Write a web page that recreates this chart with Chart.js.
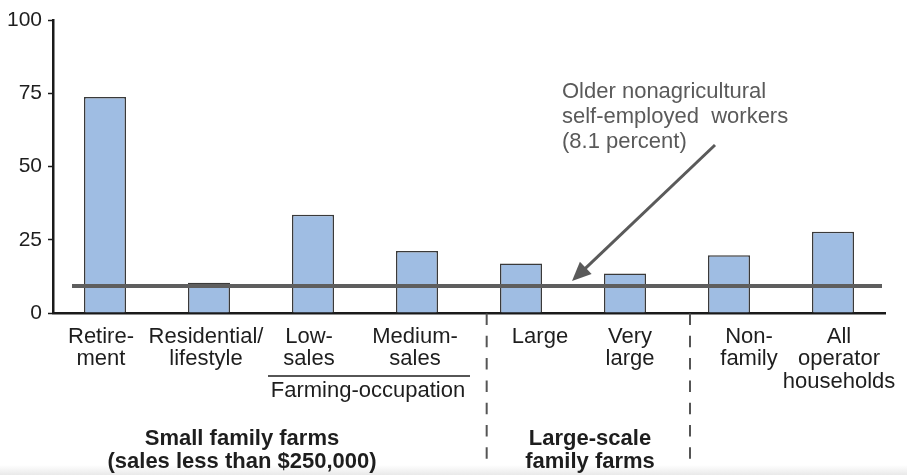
<!DOCTYPE html>
<html>
<head>
<meta charset="utf-8">
<script src="https://cdn.jsdelivr.net/npm/chart.js@4/dist/chart.umd.min.js"></script>
<style>
  html, body { margin: 0; padding: 0; }
  body {
    width: 907px; height: 475px; overflow: hidden;
    background: linear-gradient(to bottom, #fff 0, #fff 465px, #e9e9e9 475px);
  }
  canvas { display: block; }
</style>
</head>
<body>
<canvas id="chart" width="907" height="475"></canvas>
<script>
// values (percent)
const CATEGORIES = [
  ['Retire-', 'ment'],
  ['Residential/', 'lifestyle'],
  ['Low-', 'sales'],
  ['Medium-', 'sales'],
  ['Large'],
  ['Very', 'large'],
  ['Non-', 'family'],
  ['All', 'operator', 'households'],
];
const SHARES = [73.7, 10.3, 33.5, 21.2, 16.9, 13.5, 19.7, 27.7];
const Y_TICKS = [0, 25, 50, 75, 100];
const REFERENCE_LEVEL = 9.2;
const NOTE_LINES = ['Older nonagricultural', 'self-employed  workers', '(8.1 percent)'];
const SUBGROUP_LABEL = 'Farming-occupation';
const SMALL_FARMS_LABEL = ['Small family farms', '(sales less than $250,000)'];
const LARGE_FARMS_LABEL = ['Large-scale', 'family farms'];

// styling
const FONT = '"Liberation Sans", Arial, Helvetica, sans-serif';
const TEXT = '#1e1e1e';
const GREY = '#5a5a5a';
const LABEL_SHIFT = [-4, -3, -4, -2, 19, 5, 20, 6];
const DIVIDERS = [3.67, 5.625];

const overlay = {
  id: 'overlay',
  afterDatasetsDraw(chart) {
    const { ctx, chartArea, scales: { y } } = chart;
    const yRef = y.getPixelForValue(REFERENCE_LEVEL);
    ctx.save();
    ctx.strokeStyle = '#5e5e5e';
    ctx.lineWidth = 4;
    ctx.beginPath();
    ctx.moveTo(chartArea.left + 19, yRef);
    ctx.lineTo(chartArea.right - 3, yRef);
    ctx.stroke();
    ctx.restore();
  },
  afterDraw(chart) {
    const { ctx, chartArea, scales: { x, y } } = chart;
    const bottom = chartArea.bottom;
    ctx.save();

    // category labels
    ctx.font = `22px ${FONT}`;
    ctx.fillStyle = TEXT;
    ctx.textAlign = 'center';
    ctx.textBaseline = 'alphabetic';
    CATEGORIES.forEach((lines, i) => {
      const cx = x.getPixelForValue(i) + LABEL_SHIFT[i];
      lines.forEach((t, j) => ctx.fillText(t, cx, bottom + 29.5 + j * 22.5));
    });

    // farming-occupation bracket
    const x0 = x.getPixelForValue(2) - 45;
    const x1 = x.getPixelForValue(3) + 53;
    ctx.strokeStyle = TEXT;
    ctx.lineWidth = 1.5;
    ctx.beginPath();
    ctx.moveTo(x0, bottom + 63);
    ctx.lineTo(x1, bottom + 63);
    ctx.stroke();
    ctx.fillText(SUBGROUP_LABEL, (x0 + x1) / 2 - 1, bottom + 84);

    // group labels
    ctx.font = `bold 22px ${FONT}`;
    SMALL_FARMS_LABEL.forEach((t, j) => ctx.fillText(t, 242, bottom + 132 + j * 22.5));
    LARGE_FARMS_LABEL.forEach((t, j) => ctx.fillText(t, 590, bottom + 132 + j * 22.5));

    // dashed dividers
    ctx.strokeStyle = '#555';
    ctx.lineWidth = 2;
    ctx.setLineDash([11.5, 10.8]);
    DIVIDERS.forEach((v) => {
      const dx = x.getPixelForValue(v);
      ctx.beginPath();
      ctx.moveTo(dx, bottom + 0.5);
      ctx.lineTo(dx, bottom + 147);
      ctx.stroke();
    });
    ctx.setLineDash([]);

    // note text
    ctx.font = `22px ${FONT}`;
    ctx.fillStyle = GREY;
    ctx.textAlign = 'left';
    NOTE_LINES.forEach((t, j) => ctx.fillText(t, 562, 98 + j * 25));

    // arrow to the reference line
    const tail = { x: 715, y: 145 };
    const tip = { x: x.getPixelForValue(4.5) - 1, y: y.getPixelForValue(REFERENCE_LEVEL) - 5 };
    const len = Math.hypot(tip.x - tail.x, tip.y - tail.y);
    const ux = (tip.x - tail.x) / len;
    const uy = (tip.y - tail.y) / len;
    const head = 19;
    const half = 8.5;
    const bx = tip.x - ux * head;
    const by = tip.y - uy * head;
    ctx.strokeStyle = GREY;
    ctx.lineWidth = 3;
    ctx.beginPath();
    ctx.moveTo(tail.x, tail.y);
    ctx.lineTo(bx + ux * 2, by + uy * 2);
    ctx.stroke();
    ctx.beginPath();
    ctx.moveTo(tip.x, tip.y);
    ctx.lineTo(bx - uy * half, by + ux * half);
    ctx.lineTo(bx + uy * half, by - ux * half);
    ctx.closePath();
    ctx.fillStyle = GREY;
    ctx.fill();

    ctx.restore();
  },
};

new Chart(document.getElementById('chart'), {
  type: 'bar',
  data: {
    labels: CATEGORIES,
    datasets: [{
      data: SHARES,
      backgroundColor: '#9fbde3',
      borderColor: '#3a3a3a',
      borderWidth: 1.5,
      barPercentage: 0.404,
      categoryPercentage: 1,
    }],
  },
  options: {
    responsive: false,
    animation: false,
    layout: { padding: { top: 20, right: 22, left: 0, bottom: 0 } },
    plugins: { legend: { display: false }, tooltip: { enabled: false } },
    scales: {
      x: {
        grid: { display: false },
        border: { display: true, color: '#1a1a1a', width: 2.5 },
        ticks: { display: false },
        afterFit: (scale) => { scale.height = 162; },
      },
      y: {
        min: 0,
        max: 100,
        afterBuildTicks: (scale) => { scale.ticks = Y_TICKS.map((v) => ({ value: v })); },
        grid: { drawOnChartArea: false, tickLength: 5, tickWidth: 1.5, tickColor: '#1a1a1a' },
        border: { display: true, color: '#1a1a1a', width: 2.5 },
        ticks: { padding: 6, color: TEXT, font: { family: FONT, size: 21 } },
        afterFit: (scale) => { scale.width = 53; },
      },
    },
  },
  plugins: [overlay],
});
</script>
</body>
</html>
